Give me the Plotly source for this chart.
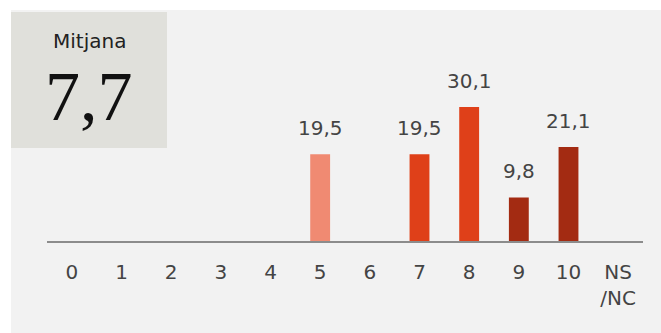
import plotly.graph_objects as go

PANEL_BG = "#f2f2f2"
BOX_BG = "#e0e0db"
TEXT_COLOR = "#444444"
AXIS_COLOR = "#8c8c8c"

categories = ["0", "1", "2", "3", "4", "5", "6", "7", "8", "9", "10", "NS<br>/NC"]
values = [None, None, None, None, None, 19.5, None, 19.5, 30.1, 9.8, 21.1, None]
bar_colors = ["#f08a72"] * 6 + ["#df4019"] * 3 + ["#a32b12"] * 3
mean_label = "Mitjana"
mean_value = "7,7"

W, H = 661, 333
FONT = "DejaVu Sans, sans-serif"

margin = dict(l=47, r=18, t=63, b=92)
pw = W - margin["l"] - margin["r"]
ph = H - margin["t"] - margin["b"]


def px_x(p):
    return (p - margin["l"]) / pw


def px_y(p):
    return (H - margin["b"] - p) / ph


fig = go.Figure()
fig.add_trace(go.Bar(x=categories, y=values, marker=dict(color=bar_colors, line=dict(width=0)),
                     width=0.4, hoverinfo="skip"))

# value labels above bars
for c, v in zip(categories, values):
    if v is None:
        continue
    fig.add_annotation(x=c, y=v, text=f"{v:.1f}".replace(".", ","), showarrow=False,
                       yanchor="bottom", yshift=12, font=dict(size=20, color=TEXT_COLOR, family=FONT))

# white page strips above and left of the gray panel
fig.add_shape(type="rect", xref="paper", yref="paper", layer="below",
              x0=px_x(-10), x1=px_x(800), y0=px_y(10), y1=px_y(-10),
              line=dict(width=0), fillcolor="white")
fig.add_shape(type="rect", xref="paper", yref="paper", layer="below",
              x0=px_x(-10), x1=px_x(11), y0=px_y(500), y1=px_y(-10),
              line=dict(width=0), fillcolor="white")
# "Mitjana" box
fig.add_shape(type="rect", xref="paper", yref="paper", layer="below",
              x0=px_x(11), x1=px_x(167), y0=px_y(148), y1=px_y(12),
              line=dict(width=0), fillcolor=BOX_BG)
fig.add_annotation(xref="paper", yref="paper", x=px_x(89), y=px_y(41), text=mean_label,
                   xanchor="center", yanchor="middle", showarrow=False,
                   font=dict(size=20, color="#222222", family=FONT))
fig.add_annotation(xref="paper", yref="paper", x=px_x(89), y=px_y(96), text=mean_value,
                   xanchor="center", yanchor="middle", showarrow=False,
                   font=dict(size=70, color="#111111", family="Liberation Serif, serif"))

fig.update_layout(
    width=W, height=H, margin=margin,
    paper_bgcolor=PANEL_BG, plot_bgcolor=PANEL_BG,
    showlegend=False, bargap=0.6,
    font=dict(family=FONT, color=TEXT_COLOR, size=20),
    xaxis=dict(type="category", categoryarray=categories, showgrid=False, zeroline=False,
               showline=True, linecolor=AXIS_COLOR, linewidth=2,
               ticks="outside", ticklen=12, tickcolor="rgba(0,0,0,0)",
               tickfont=dict(size=20, color=TEXT_COLOR, family=FONT), fixedrange=True),
    yaxis=dict(range=[0, 40], visible=False, fixedrange=True),
)

fig.write_html("out.html", config={"displayModeBar": False},
               post_script="document.body.style.margin='0';document.body.style.overflow='hidden';")
